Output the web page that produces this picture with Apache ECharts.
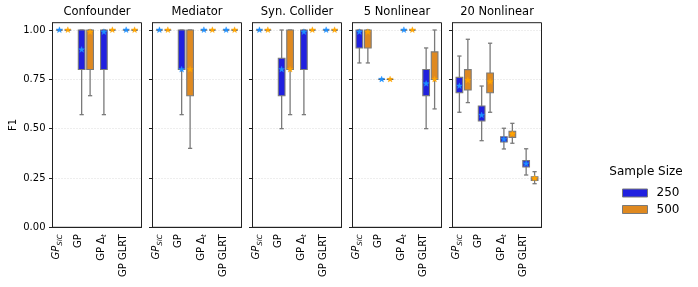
<!DOCTYPE html>
<html>
<head>
<meta charset="utf-8">
<script src="https://cdn.jsdelivr.net/npm/echarts@6/dist/echarts.min.js"></script>
<style>html,body{margin:0;padding:0;background:#fff}#c{width:698px;height:287px}</style>
</head>
<body>
<div id="c"></div>
<script>
// ---- data ----
const categories = ['GP_SIC', 'GP', 'GP Δt', 'GP GLRT'];
const panels = ['Confounder', 'Mediator', 'Syn. Collider', '5 Nonlinear', '20 Nonlinear'];
const sampleSizes = ['250', '500'];
const yTicks = [0, 0.25, 0.5, 0.75, 1.0];

// per panel, per category: [lower whisker, Q1, Q3, upper whisker]
const box250 = [
  [[1, 1, 1, 1], [0.571, 0.8, 1, 1], [0.571, 0.8, 1, 1], [1, 1, 1, 1]],
  [[1, 1, 1, 1], [0.571, 0.8, 1, 1], [1, 1, 1, 1], [1, 1, 1, 1]],
  [[1, 1, 1, 1], [0.5, 0.667, 0.857, 1], [0.571, 0.8, 1, 1], [1, 1, 1, 1]],
  [[0.833, 0.909, 1, 1], [0.75, 0.75, 0.75, 0.75], [1, 1, 1, 1], [0.5, 0.667, 0.8, 0.909]],
  [[0.583, 0.682, 0.760, 0.868], [0.439, 0.539, 0.615, 0.716], [0.397, 0.432, 0.459, 0.502], [0.265, 0.306, 0.338, 0.398]]
];
const box500 = [
  [[1, 1, 1, 1], [0.667, 0.8, 1, 1], [1, 1, 1, 1], [1, 1, 1, 1]],
  [[1, 1, 1, 1], [0.4, 0.667, 1, 1], [1, 1, 1, 1], [1, 1, 1, 1]],
  [[1, 1, 1, 1], [0.571, 0.8, 1, 1], [1, 1, 1, 1], [1, 1, 1, 1]],
  [[0.833, 0.909, 1, 1], [0.75, 0.75, 0.75, 0.75], [1, 1, 1, 1], [0.6, 0.75, 0.889, 1]],
  [[0.632, 0.696, 0.799, 0.953], [0.583, 0.682, 0.782, 0.933], [0.426, 0.456, 0.487, 0.527], [0.221, 0.238, 0.256, 0.282]]
];
// means (star markers)
const mean250 = [
  [1, 0.9, 0.99, 1],
  [1, 0.8, 1, 1],
  [1, 0.8, 0.99, 1],
  [0.99, 0.75, 1, 0.728],
  [0.716, 0.568, 0.446, 0.322]
];
const mean500 = [
  [1, 0.99, 1, 1],
  [1, 0.8, 1, 1],
  [1, 0.8, 1, 1],
  [0.99, 0.75, 1, 0.75],
  [0.745, 0.738, 0.473, 0.248]
];

// ---- styling ----
const FONT = 'DejaVu Sans';
const boxColors = ['#2020df', '#df8920'];
const starColors = ['#1e90ff', '#ffa500'];
const edgeColor = '#7a7a7a';
const labelRich = {
  it: { fontStyle: 'italic', fontFamily: FONT, fontSize: 10, lineHeight: 14, color: '#000' },
  n: { fontFamily: FONT, fontSize: 10, lineHeight: 14, color: '#000' },
  sub: { fontStyle: 'italic', fontFamily: FONT, fontSize: 7, lineHeight: 7, verticalAlign: 'bottom', color: '#000' }
};
const labelFmt = {
  'GP_SIC': '{it|GP}{sub|SIC}',
  'GP': '{n|GP}',
  'GP Δt': '{n|GP Δ}{sub|t}',
  'GP GLRT': '{n|GP GLRT}'
};

const gridLeft0 = 52.5, gridStep = 100, gridW = 89, gridTop = 22.7, gridH = 204.6;

const grids = [], xAxes = [], yAxes = [], series = [], graphics = [];
panels.forEach((p, i) => {
  const left = gridLeft0 + i * gridStep;
  grids.push({ left: left, top: gridTop, width: gridW, height: gridH, show: true, borderColor: '#222', borderWidth: 1, backgroundColor: 'transparent' });
  xAxes.push({
    type: 'category', gridIndex: i, data: categories, boundaryGap: true,
    axisLine: { lineStyle: { color: '#222', width: 1 } },
    axisTick: { alignWithLabel: true, length: 3.5, lineStyle: { color: '#222' } },
    axisLabel: {
      rotate: 90, interval: 0, margin: 7, verticalAlign: 'bottom',
      formatter: v => labelFmt[v], rich: labelRich,
      fontFamily: FONT, fontSize: 10, color: '#000'
    },
    splitLine: { show: false }
  });
  yAxes.push({
    type: 'value', gridIndex: i, min: 0, max: 1.037, interval: 0.25,
    name: i === 0 ? 'F1' : '', nameLocation: 'middle', nameGap: 34, nameRotate: 90,
    nameTextStyle: { fontFamily: FONT, fontSize: 10, color: '#000' },
    axisLine: { show: true, lineStyle: { color: '#222', width: 1 } },
    axisTick: { show: true, length: 3.5, customValues: yTicks, lineStyle: { color: '#222' } },
    axisLabel: { show: i === 0, customValues: yTicks, margin: 7, fontFamily: FONT, fontSize: 10, color: '#000',
      formatter: v => v.toFixed(2) },
    splitLine: { show: true, lineStyle: { color: '#d4d4d4', type: [1, 2], width: 0.8 } }
  });
  graphics.push({
    type: 'text', x: left + gridW / 2, y: 12.5,
    style: { text: p, textAlign: 'center', textVerticalAlign: 'middle', fontFamily: FONT, fontSize: 11.5, fill: '#000' }
  });
  [box250, box500].forEach((boxes, s) => {
    const means = s === 0 ? mean250 : mean500;
    const data = categories.map((c, k) => [k].concat(boxes[i][k]).concat([means[i][k]]));
    const off = s === 0 ? -0.19 : 0.19;
    series.push({
      type: 'custom', name: sampleSizes[s], xAxisIndex: i, yAxisIndex: i,
      itemStyle: { color: boxColors[s], borderColor: edgeColor },
      encode: { x: 0, y: [1, 2, 3, 4, 5] },
      data: data,
      z: 5,
      renderItem: function (params, api) {
        const ci = api.value(0);
        const band = api.size([1, 0])[0];
        const cx = api.coord([ci, 0])[0] + off * band;
        const Y = v => api.coord([ci, v])[1];
        const bw = band * 0.3, cw = band * 0.19;
        const yMin = Y(api.value(1)), yQ1 = Y(api.value(2)), yQ3 = Y(api.value(3)), yMax = Y(api.value(4)), yMean = Y(api.value(5));
        const wStyle = { stroke: edgeColor, lineWidth: 1.3 };
        const children = [
          { type: 'line', shape: { x1: cx, y1: yQ1, x2: cx, y2: yMin }, style: wStyle },
          { type: 'line', shape: { x1: cx, y1: yQ3, x2: cx, y2: yMax }, style: wStyle },
          { type: 'line', shape: { x1: cx - cw / 2, y1: yMin, x2: cx + cw / 2, y2: yMin }, style: wStyle },
          { type: 'line', shape: { x1: cx - cw / 2, y1: yMax, x2: cx + cw / 2, y2: yMax }, style: wStyle }
        ];
        if (yQ1 - yQ3 > 0.5) {
          children.push({ type: 'rect', shape: { x: cx - bw / 2, y: yQ3, width: bw, height: yQ1 - yQ3 },
            style: { fill: boxColors[s], stroke: edgeColor, lineWidth: 1.1 } });
        } else {
          children.push({ type: 'line', shape: { x1: cx - bw / 2, y1: yQ3, x2: cx + bw / 2, y2: yQ3 },
            style: { stroke: '#555', lineWidth: 1.2 } });
        }
        const pts = [];
        const R = 3.2, r = 1.3;
        for (let j = 0; j < 10; j++) {
          const a = -Math.PI / 2 + j * Math.PI / 5;
          const rr = j % 2 === 0 ? R : r;
          pts.push([cx + rr * Math.cos(a), yMean + rr * Math.sin(a)]);
        }
        children.push({ type: 'polygon', shape: { points: pts }, style: { fill: starColors[s], stroke: starColors[s], lineWidth: 0.4 } });
        return { type: 'group', children: children };
      }
    });
  });
});

graphics.push({
  type: 'text', x: 646, y: 172,
  style: { text: 'Sample Size', textAlign: 'center', textVerticalAlign: 'middle', fontFamily: FONT, fontSize: 12, fill: '#000' }
});

const chart = echarts.init(document.getElementById('c'), null, { renderer: 'canvas' });
chart.setOption({
  animation: false,
  backgroundColor: '#fff',
  grid: grids,
  xAxis: xAxes,
  yAxis: yAxes,
  series: series,
  graphic: graphics,
  legend: {
    orient: 'vertical', left: 617, top: 182, itemWidth: 25, itemHeight: 8, itemGap: 4.5,
    data: sampleSizes.map((n, s) => ({ name: n, icon: 'rect', itemStyle: { color: boxColors[s], borderColor: edgeColor, borderWidth: 1 } })),
    textStyle: { fontFamily: FONT, fontSize: 12, color: '#000', padding: [0, 0, 0, 4] },
    selectedMode: false
  }
});
</script>
</body>
</html>
